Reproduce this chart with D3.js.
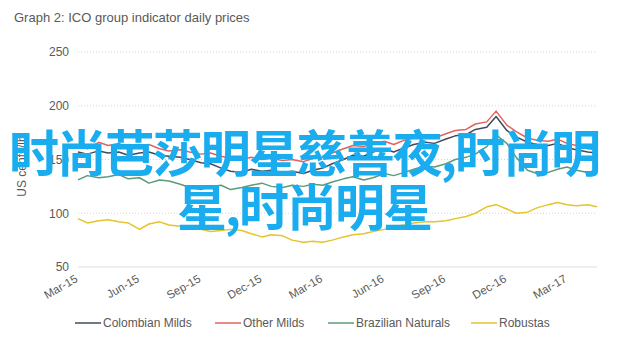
<!DOCTYPE html>
<html>
<head>
<meta charset="utf-8">
<script src="https://cdn.jsdelivr.net/npm/d3@7"></script>
<style>
  body { margin: 0; background: #fff; }
  svg text { font-family: "Liberation Sans", Arial, sans-serif; }
</style>
</head>
<body>
<script>
// semi-monthly readings, Mar 2015 .. mid Apr 2017
var dates = [
  '2015-03-01','2015-03-15','2015-04-01','2015-04-15','2015-05-01','2015-05-15',
  '2015-06-01','2015-06-15','2015-07-01','2015-07-15','2015-08-01','2015-08-15',
  '2015-09-01','2015-09-15','2015-10-01','2015-10-15','2015-11-01','2015-11-15',
  '2015-12-01','2015-12-15','2016-01-01','2016-01-15','2016-02-01','2016-02-15',
  '2016-03-01','2016-03-15','2016-04-01','2016-04-15','2016-05-01','2016-05-15',
  '2016-06-01','2016-06-15','2016-07-01','2016-07-15','2016-08-01','2016-08-15',
  '2016-09-01','2016-09-15','2016-10-01','2016-10-15','2016-11-01','2016-11-15',
  '2016-12-01','2016-12-15','2017-01-01','2017-01-15','2017-02-01','2017-02-15',
  '2017-03-01','2017-03-15','2017-04-01','2017-04-15'
];
var colombianMilds = [157,155,158,156,157,154,156,157,154,153,152,150,147,146,142,139,138,141,
  139,140,138,139,137,140,142,146,150,154,153,157,160,157,161,164,166,165,169,172,173,178,180,190,
  177,171,166,164,163,165,161,159,157,156];
var otherMilds = [162,160,166,163,165,161,163,164,160,158,159,157,155,156,153,151,150,152,
  150,151,149,150,148,151,152,156,160,163,162,165,167,164,168,170,172,170,174,177,178,183,185,195,
  182,176,170,168,167,169,165,163,160,159];
var brazilianNaturals = [131,135,133,134,136,132,133,128,131,130,127,124,122,125,126,122,124,126,
  128,125,124,126,125,127,126,129,132,134,131,133,137,135,138,141,144,143,146,150,152,155,162,173,
  165,152,140,137,138,141,143,140,138,140];
var robustas = [95,91,93,94,92,91,85,90,92,89,88,87,85,83,84,85,84,81,
  78,80,79,75,73,74,73,75,78,80,81,83,85,88,89,91,92,92,93,95,97,100,106,108,
  104,100,101,105,108,110,108,107,108,106];

var seriesNames = ['Colombian Milds','Other Milds','Brazilian Naturals','Robustas'];
var seriesColors = ['#414b5c','#e0645c','#5b9b7b','#e5c42c'];
var yTicks = [50,100,150,200,250];
var xTicks = ['2015-03-01','2015-06-01','2015-09-01','2015-12-01','2016-03-01',
  '2016-06-01','2016-09-01','2016-12-01','2017-03-01'];

var width = 623, height = 339;
var parse = d3.timeParse('%Y-%m-%d');

var svg = d3.select('body').append('svg')
  .attr('width', width)
  .attr('height', height);

var x = d3.scaleTime()
  .domain([parse('2015-03-01'), parse('2017-03-01')])
  .range([78, 567]);
var y = d3.scaleLinear()
  .domain([50, 250])
  .range([267, 52]);

svg.append('text')
  .attr('x', 14).attr('y', 22)
  .style('font-size', '13px')
  .style('fill', '#595959')
  .text('Graph 2: ICO group indicator daily prices');

// grid
svg.append('g').selectAll('line')
  .data(yTicks)
  .enter().append('line')
  .attr('x1', 78).attr('x2', 597)
  .attr('y1', d => y(d)).attr('y2', d => y(d))
  .style('stroke', d => d === 50 ? '#dedede' : '#d4d4d4')
  .style('stroke-dasharray', d => d === 50 ? null : '1,2');

var yAxis = svg.append('g')
  .attr('transform', 'translate(69,0)')
  .call(d3.axisLeft(y).tickValues(yTicks).tickSize(0).tickPadding(0));
yAxis.select('.domain').remove();
yAxis.selectAll('text')
  .style('font-size', '12px')
  .style('fill', '#595959')
  .style('font-family', '"Liberation Sans", Arial, sans-serif');

svg.append('text')
  .attr('transform', 'translate(26,166) rotate(-90)')
  .attr('text-anchor', 'middle')
  .style('font-size', '12px')
  .style('fill', '#595959')
  .text('US cents/lb');

var xAxis = svg.append('g')
  .attr('transform', 'translate(0,270)')
  .call(d3.axisBottom(x).tickValues(xTicks.map(parse))
    .tickFormat(d3.timeFormat('%b-%y')).tickSize(0));
xAxis.select('.domain').remove();
xAxis.selectAll('text')
  .attr('text-anchor', 'end')
  .attr('dy', null)
  .attr('y', 0)
  .attr('transform', 'translate(0,11) rotate(-30)')
  .style('font-size', '11.5px')
  .style('fill', '#595959')
  .style('font-family', '"Liberation Sans", Arial, sans-serif');

var allSeries = [colombianMilds, otherMilds, brazilianNaturals, robustas];
var line = d3.line()
  .x((d, i) => x(parse(dates[i])))
  .y(d => y(d));

// draw order: robustas, green, gray, red on top
[3, 2, 0, 1].forEach(function(k) {
  svg.append('path')
    .datum(allSeries[k])
    .attr('d', line)
    .style('fill', 'none')
    .style('stroke', seriesColors[k])
    .style('stroke-width', 1.5)
    .style('stroke-linejoin', 'round');
});

// legend
var legendX = [75, 215, 328, 471];
var legend = svg.append('g');
seriesNames.forEach(function(name, i) {
  var g = legend.append('g').attr('transform', 'translate(' + legendX[i] + ',323)');
  g.append('line')
    .attr('x1', 0).attr('x2', 26)
    .style('stroke', seriesColors[i])
    .style('stroke-width', 1.5);
  g.append('text')
    .attr('x', 28).attr('y', 4)
    .style('font-size', '12px')
    .style('fill', '#595959')
    .text(name);
});

// overlay caption
var caption = ['时尚芭莎明星慈善夜,时尚明', '星,时尚明星'];
svg.append('g').selectAll('text')
  .data(caption)
  .enter().append('text')
  .attr('x', 304)
  .attr('y', (d, i) => 172 + i * 54)
  .attr('text-anchor', 'middle')
  .style('font-family', '"Noto Sans CJK SC", sans-serif')
  .style('font-size', '50px')
  .style('letter-spacing', '-2px')
  .style('font-weight', 'bold')
  .style('fill', '#19adf0')
  .text(d => d);
</script>
</body>
</html>
